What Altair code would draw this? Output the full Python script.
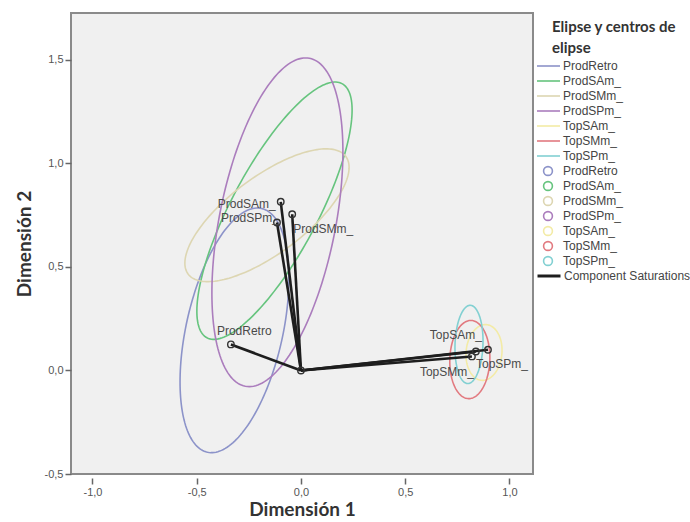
import altair as alt
import numpy as np
import pandas as pd

# ---- data ----
cats = ["ProdRetro", "ProdSAm_", "ProdSMm_", "ProdSPm_", "TopSAm_", "TopSMm_", "TopSPm_"]
colors = ["#8c93c9", "#66c47e", "#ddd6b2", "#ab7dbd", "#f3eba6", "#e27a80", "#82d0d2"]

# ellipse centre, semi-axes and rotation (degrees)
ell_cx = [-0.319, -0.127, -0.163, -0.113, 0.878, 0.810, 0.806]
ell_cy = [0.194, 0.772, 0.750, 0.716, 0.087, 0.053, 0.126]
ell_a = [0.603, 0.694, 0.473, 0.807, 0.135, 0.189, 0.189]
ell_b = [0.232, 0.208, 0.185, 0.279, 0.086, 0.096, 0.067]
ell_ang = [77.6, 62.2, 37.0, 79.0, 85.0, 88.0, 88.0]

# component saturation end points
pt_x = [-0.336, -0.097, -0.042, -0.115, 0.839, 0.820, 0.897]
pt_y = [0.126, 0.815, 0.755, 0.715, 0.092, 0.068, 0.100]
origin = [0.0, 0.0]

x_ticks = [-1.0, -0.5, 0.0, 0.5, 1.0]
y_ticks = [-0.5, 0.0, 0.5, 1.0, 1.5]
x_domain = [-1.103, 1.113]
y_domain = [-0.5, 1.727]

# label placement style: align, dx, dy
label_style = {
    "ProdRetro": ("left", -14, -13),
    "ProdSAm_": ("right", -5, 2),
    "ProdSMm_": ("left", 1, 15),
    "ProdSPm_": ("right", 2, -4),
    "TopSAm_": ("right", 6, -16),
    "TopSMm_": ("right", 2, 16),
    "TopSPm_": ("left", -12, 14),
}

# ---- tables ----
rows = []
t = np.linspace(0, 2 * np.pi, 181)
for c, cx, cy, a, b, ang in zip(cats, ell_cx, ell_cy, ell_a, ell_b, ell_ang):
    th = np.deg2rad(ang)
    xs = cx + a * np.cos(t) * np.cos(th) - b * np.sin(t) * np.sin(th)
    ys = cy + a * np.cos(t) * np.sin(th) + b * np.sin(t) * np.cos(th)
    for i, (xx, yy) in enumerate(zip(xs, ys)):
        rows.append({"cat": c, "i": i, "x": xx, "y": yy})
ell_df = pd.DataFrame(rows)

pts_df = pd.DataFrame({"name": cats, "x": pt_x, "y": pt_y})
centers_df = pd.DataFrame({"centro": cats, "x": pt_x, "y": pt_y})

vec_rows = []
for n, xx, yy in zip(cats, pt_x, pt_y):
    vec_rows.append({"name": n, "o": 0, "x": origin[0], "y": origin[1], "series": "Component Saturations"})
    vec_rows.append({"name": n, "o": 1, "x": xx, "y": yy, "series": "Component Saturations"})
vec_df = pd.DataFrame(vec_rows)

circ_df = pd.concat([pts_df, pd.DataFrame({"name": ["origin"], "x": [origin[0]], "y": [origin[1]]})])

label_expr = "replace(replace(format(datum.value, '.1f'), '.', ','), '\u2212', '-')"

X = alt.X("x:Q", scale=alt.Scale(domain=x_domain, nice=False, zero=False),
          axis=alt.Axis(values=x_ticks, title="Dimensión 1", labelExpr=label_expr))
Y = alt.Y("y:Q", scale=alt.Scale(domain=y_domain, nice=False, zero=False),
          axis=alt.Axis(values=y_ticks, title="Dimensión 2", labelExpr=label_expr))
Xn = alt.X("x:Q")
Yn = alt.Y("y:Q")

legend_common = dict(orient="none", title=None, labelFont="Liberation Sans", labelFontSize=12,
                     labelColor="#444", padding=0, rowPadding=3, clipHeight=12, labelLimit=300)

ellipses = alt.Chart(ell_df).mark_line(strokeWidth=1.6).encode(
    x=X, y=Y,
    color=alt.Color("cat:N", scale=alt.Scale(domain=cats, range=colors),
                    legend=alt.Legend(legendX=465, legendY=47, symbolType="stroke", symbolSize=529,
                                      symbolStrokeWidth=1.6, labelOffset=2, **legend_common)),
    detail="cat:N",
    order="i:Q",
)

centers = alt.Chart(centers_df).mark_point(shape="circle", filled=False, opacity=0).encode(
    x=Xn, y=Yn,
    color=alt.Color("centro:N", scale=alt.Scale(domain=cats, range=colors),
                    legend=alt.Legend(legendX=471, legendY=152, symbolType="circle", symbolSize=78,
                                      symbolStrokeWidth=1.6, symbolOpacity=1, labelOffset=9,
                                      **legend_common)),
)

vectors = alt.Chart(vec_df).mark_line(strokeWidth=2.6).encode(
    x=Xn, y=Yn,
    color=alt.Color("series:N", scale=alt.Scale(domain=["Component Saturations"], range=["#1e1e1e"]),
                    legend=alt.Legend(legendX=465, legendY=257, symbolType="stroke", symbolSize=529,
                                      symbolStrokeWidth=3, labelOffset=2, **legend_common)),
    detail="name:N",
    order="o:Q",
)

circles = alt.Chart(circ_df).mark_point(shape="circle", filled=False, color="#333333",
                                        size=42, strokeWidth=1.4, opacity=1).encode(x=Xn, y=Yn)

texts = []
for n in cats:
    al, dx, dy = label_style[n]
    texts.append(
        alt.Chart(pts_df).transform_filter(alt.datum.name == n).mark_text(
            align=al, baseline="middle", dx=dx, dy=dy, font="Liberation Sans",
            fontSize=12, color="#4a4a4a"
        ).encode(x=Xn, y=Yn, text="name:N")
    )

chart = alt.layer(ellipses, centers, vectors, circles, *texts).resolve_scale(
    color="independent"
).properties(
    width=462, height=461,
    title=alt.TitleParams(text=["Elipse y centros de", "elipse"], anchor="start", frame="group",
                          orient="top", dx=481, dy=43, offset=0, baseline="top",
                          font="Lato", fontSize=15, fontWeight="bold", color="#333333",
                          lineHeight=21),
    autosize=alt.AutoSizeParams(type="none"),
    padding={"left": 71, "top": 13, "right": 157, "bottom": 48},
    background="white",
).configure_view(
    stroke="#8a8a8a", strokeWidth=2, fill="#f0f0f0"
).configure_axis(
    domain=False, grid=False, tickColor="#666666", tickWidth=1.5,
    labelColor="#555555", labelFont="Liberation Sans", labelFontSize=11,
    titleFont="Lato", titleFontSize=19, titleFontWeight="bold", titleColor="#333333",
).configure_axisX(
    offset=4, tickSize=6, labelPadding=2, titlePadding=3
).configure_axisY(
    tickSize=6, labelPadding=2, titlePadding=10
)

chart.save("out.html", embed_options={"renderer": "svg", "actions": False})
